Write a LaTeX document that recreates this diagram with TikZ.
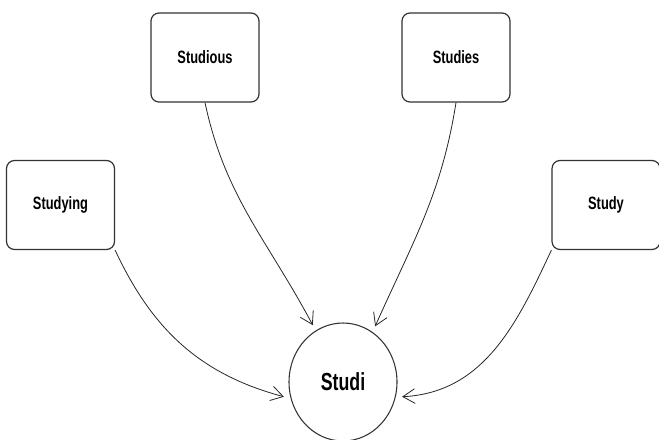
\documentclass[tikz,border=0pt]{standalone}
\usepackage{fontspec}
\setmainfont{Liberation Sans}[FakeStretch=0.72]
\usetikzlibrary{arrows.meta,shapes.geometric}
\tikzset{
  wordbox/.style={draw=black!80, line width=0.9pt, rounded corners=6pt,
    minimum width=81pt, minimum height=66.75pt, inner sep=0pt,
    font=\fontsize{13.4}{16}\selectfont\bfseries},
  rootnode/.style={ellipse, draw=black!80, line width=0.8pt,
    minimum width=81pt, minimum height=88.5pt, outer sep=5pt,
    font=\fontsize{18.5}{22}\selectfont\bfseries},
  link/.style={draw=black!85, line width=0.6pt,
    -{Straight Barb[length=9pt,width=11pt]}}
}

\begin{document}
\begin{tikzpicture}[x=0.75pt, y=-0.75pt]
			%%%%% START %%%%%
			\useasboundingbox (0, 0) rectangle (659, 439);
			
			\node[wordbox] (studious) at (205, 57.5) {Studious};
			\node[wordbox] (studies) at (456, 57.5) {Studies};
			\node[wordbox] (studying) at (60.5, 205) {Studying};
			\node[wordbox] (study) at (606, 205) {Study};
			
			\node[rootnode] (studi) at (343, 382) {Studi};
			
			\draw[link] (studious.south) to[out=-78, in=118] (studi.118);
			\draw[link] (studies.south) to[out=-99, in=66] (studi.60);
			\draw[link] (studying.south east) to[out=-65, in=165] (studi.194);
			\draw[link] (study.south west) to[out=-115, in=3] (studi.-14);
			
			%%%%% END %%%%%
\end{tikzpicture}
\end{document}
